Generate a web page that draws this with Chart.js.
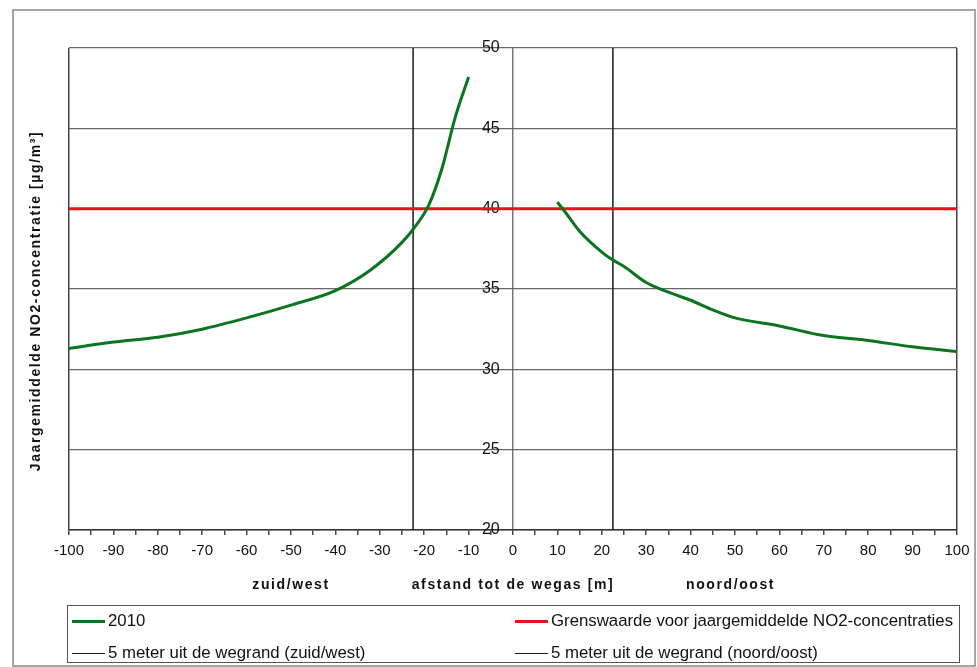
<!DOCTYPE html>
<html>
<head>
<meta charset="utf-8">
<script src="https://cdn.jsdelivr.net/npm/chart.js"></script>
<style>
  html, body { margin: 0; padding: 0; background: #fff; }
  #wrap { position: relative; width: 977px; height: 667px; }
  #legend {
    position: absolute; left: 67px; top: 605px; width: 893px; height: 58px;
    border: 1px solid #555; box-sizing: border-box;
    font-family: "Liberation Sans", Arial, sans-serif; font-size: 16.8px; color: #111;
  }
  .item { position: absolute; display: flex; align-items: center; white-space: nowrap; }
  .item span.mark { display: inline-block; width: 33px; margin-right: 3px; }
</style>
</head>
<body>
<div id="wrap">
  <canvas id="chart" width="977" height="667"></canvas>
  <div id="legend"></div>
</div>
<script>
// afstand tot de wegas (m) en jaargemiddelde NO2 (ug/m3), null = wegvak zelf
var dist2010 = [-100, -90, -80, -70, -60, -50, -40, -32, -25, -22, -19, -16, -13, -10,
                0,
                10, 12, 15, 20, 22.5, 25, 30, 35, 40, 45, 50, 60, 70, 80, 90, 100];
var no2_2010 = [31.3, 31.7, 32.0, 32.5, 33.2, 34.0, 34.9, 36.2, 37.9, 38.9, 40.2, 42.5, 45.7, 48.2,
                null,
                40.4, 39.7, 38.6, 37.3, 36.8, 36.4, 35.4, 34.8, 34.3, 33.7, 33.2, 32.7, 32.1, 31.8, 31.4, 31.1];

var limitDist = [-100, 100];
var limitValue = [40, 40];

// 5 meter uit de wegrand
var edgeSW = -22.5;
var edgeNO = 22.5;
var edgeRange = [20, 50];

var xTicks = [];
for (var t = -100; t <= 100; t += 5) xTicks.push(t);
var yTicks = [20, 25, 30, 35, 40, 45, 50];

function pts(xs, ys) {
  return xs.map(function(x, i) { return {x: x, y: ys[i]}; });
}

var FONT = '"Liberation Sans", Arial, sans-serif';

var datasets = [
  {
    label: '2010',
    data: pts(dist2010, no2_2010),
    borderColor: '#0b7420',
    borderWidth: 3,
    cubicInterpolationMode: 'monotone',
    spanGaps: false,
    order: 1
  },
  {
    label: 'Grenswaarde voor jaargemiddelde NO2-concentraties',
    data: pts(limitDist, limitValue),
    borderColor: '#e8141c',
    borderWidth: 3,
    order: 2
  },
  {
    label: '5 meter uit de wegrand (zuid/west)',
    data: pts([edgeSW, edgeSW], edgeRange),
    borderColor: '#1a1a1a',
    borderWidth: 1.5,
    order: 3
  },
  {
    label: '5 meter uit de wegrand (noord/oost)',
    data: pts([edgeNO, edgeNO], edgeRange),
    borderColor: '#1a1a1a',
    borderWidth: 1.5,
    order: 3
  }
];

// frame + losse astitels
var extras = {
  id: 'extras',
  afterDraw: function(chart) {
    var ctx = chart.ctx;
    var x = chart.scales.x;
    ctx.save();
    ctx.strokeStyle = '#888';
    ctx.lineWidth = 1.5;
    ctx.strokeRect(13, 10, 962, 656);

    ctx.fillStyle = '#111';
    ctx.font = 'bold 14px ' + FONT;
    ctx.letterSpacing = '1.6px';
    ctx.textAlign = 'center';
    ctx.textBaseline = 'middle';
    ctx.fillText('zuid/west', x.getPixelForValue(-50), 585);
    ctx.fillText('afstand tot de wegas [m]', x.getPixelForValue(0), 585);
    ctx.fillText('noord/oost', x.getPixelForValue(49), 585);

    ctx.translate(36, 301);
    ctx.rotate(-Math.PI / 2);
    ctx.fillText('Jaargemiddelde NO2-concentratie [µg/m³]', 0, 0);
    ctx.restore();
  }
};

var chart = new Chart(document.getElementById('chart'), {
  type: 'line',
  data: { datasets: datasets },
  plugins: [extras],
  options: {
    responsive: false,
    animation: false,
    events: [],
    layout: { padding: { left: 69, right: 20, top: 48, bottom: 0 } },
    elements: { point: { radius: 0 } },
    plugins: { legend: { display: false }, tooltip: { enabled: false } },
    scales: {
      x: {
        type: 'linear',
        min: -100,
        max: 100,
        afterFit: function(s) { s.height = 137; },
        afterBuildTicks: function(s) { s.ticks = xTicks.map(function(v) { return {value: v}; }); },
        ticks: {
          autoSkip: false,
          maxRotation: 0,
          padding: 7,
          color: '#111',
          font: { family: FONT, size: 15 },
          callback: function(v) { return v % 10 === 0 ? v : ''; }
        },
        grid: {
          tickLength: 5,
          tickColor: '#444',
          color: function(c) {
            if (!c.tick) return 'transparent';
            if (c.tick.value === -100 || c.tick.value === 100) return '#444';
            if (c.tick.value === 0) return '#777';
            return 'transparent';
          },
          lineWidth: 1.5
        },
        border: { color: '#333', width: 1.5 }
      },
      y: {
        // labels right-aligned a few px left of the 0 line
        position: { x: -3 },
        min: 20,
        max: 50,
        afterBuildTicks: function(s) { s.ticks = yTicks.map(function(v) { return {value: v}; }); },
        ticks: {
          color: '#111',
          font: { family: FONT, size: 16 }
        },
        grid: { color: '#666', lineWidth: 1.2, drawTicks: false },
        border: { display: false }
      }
    }
  }
});

// legenda in twee kolommen
var legend = document.getElementById('legend');
var spots = [[4, 15], [447, 15], [4, 47], [447, 47]];
chart.data.datasets.forEach(function(ds, i) {
  var item = document.createElement('div');
  item.className = 'item';
  item.style.left = spots[i][0] + 'px';
  item.style.top = (spots[i][1] - 10) + 'px';
  item.style.height = '20px';
  var mark = document.createElement('span');
  mark.className = 'mark';
  mark.style.borderTop = ds.borderWidth + 'px solid ' + ds.borderColor;
  item.appendChild(mark);
  item.appendChild(document.createTextNode(ds.label));
  legend.appendChild(item);
});
</script>
</body>
</html>
